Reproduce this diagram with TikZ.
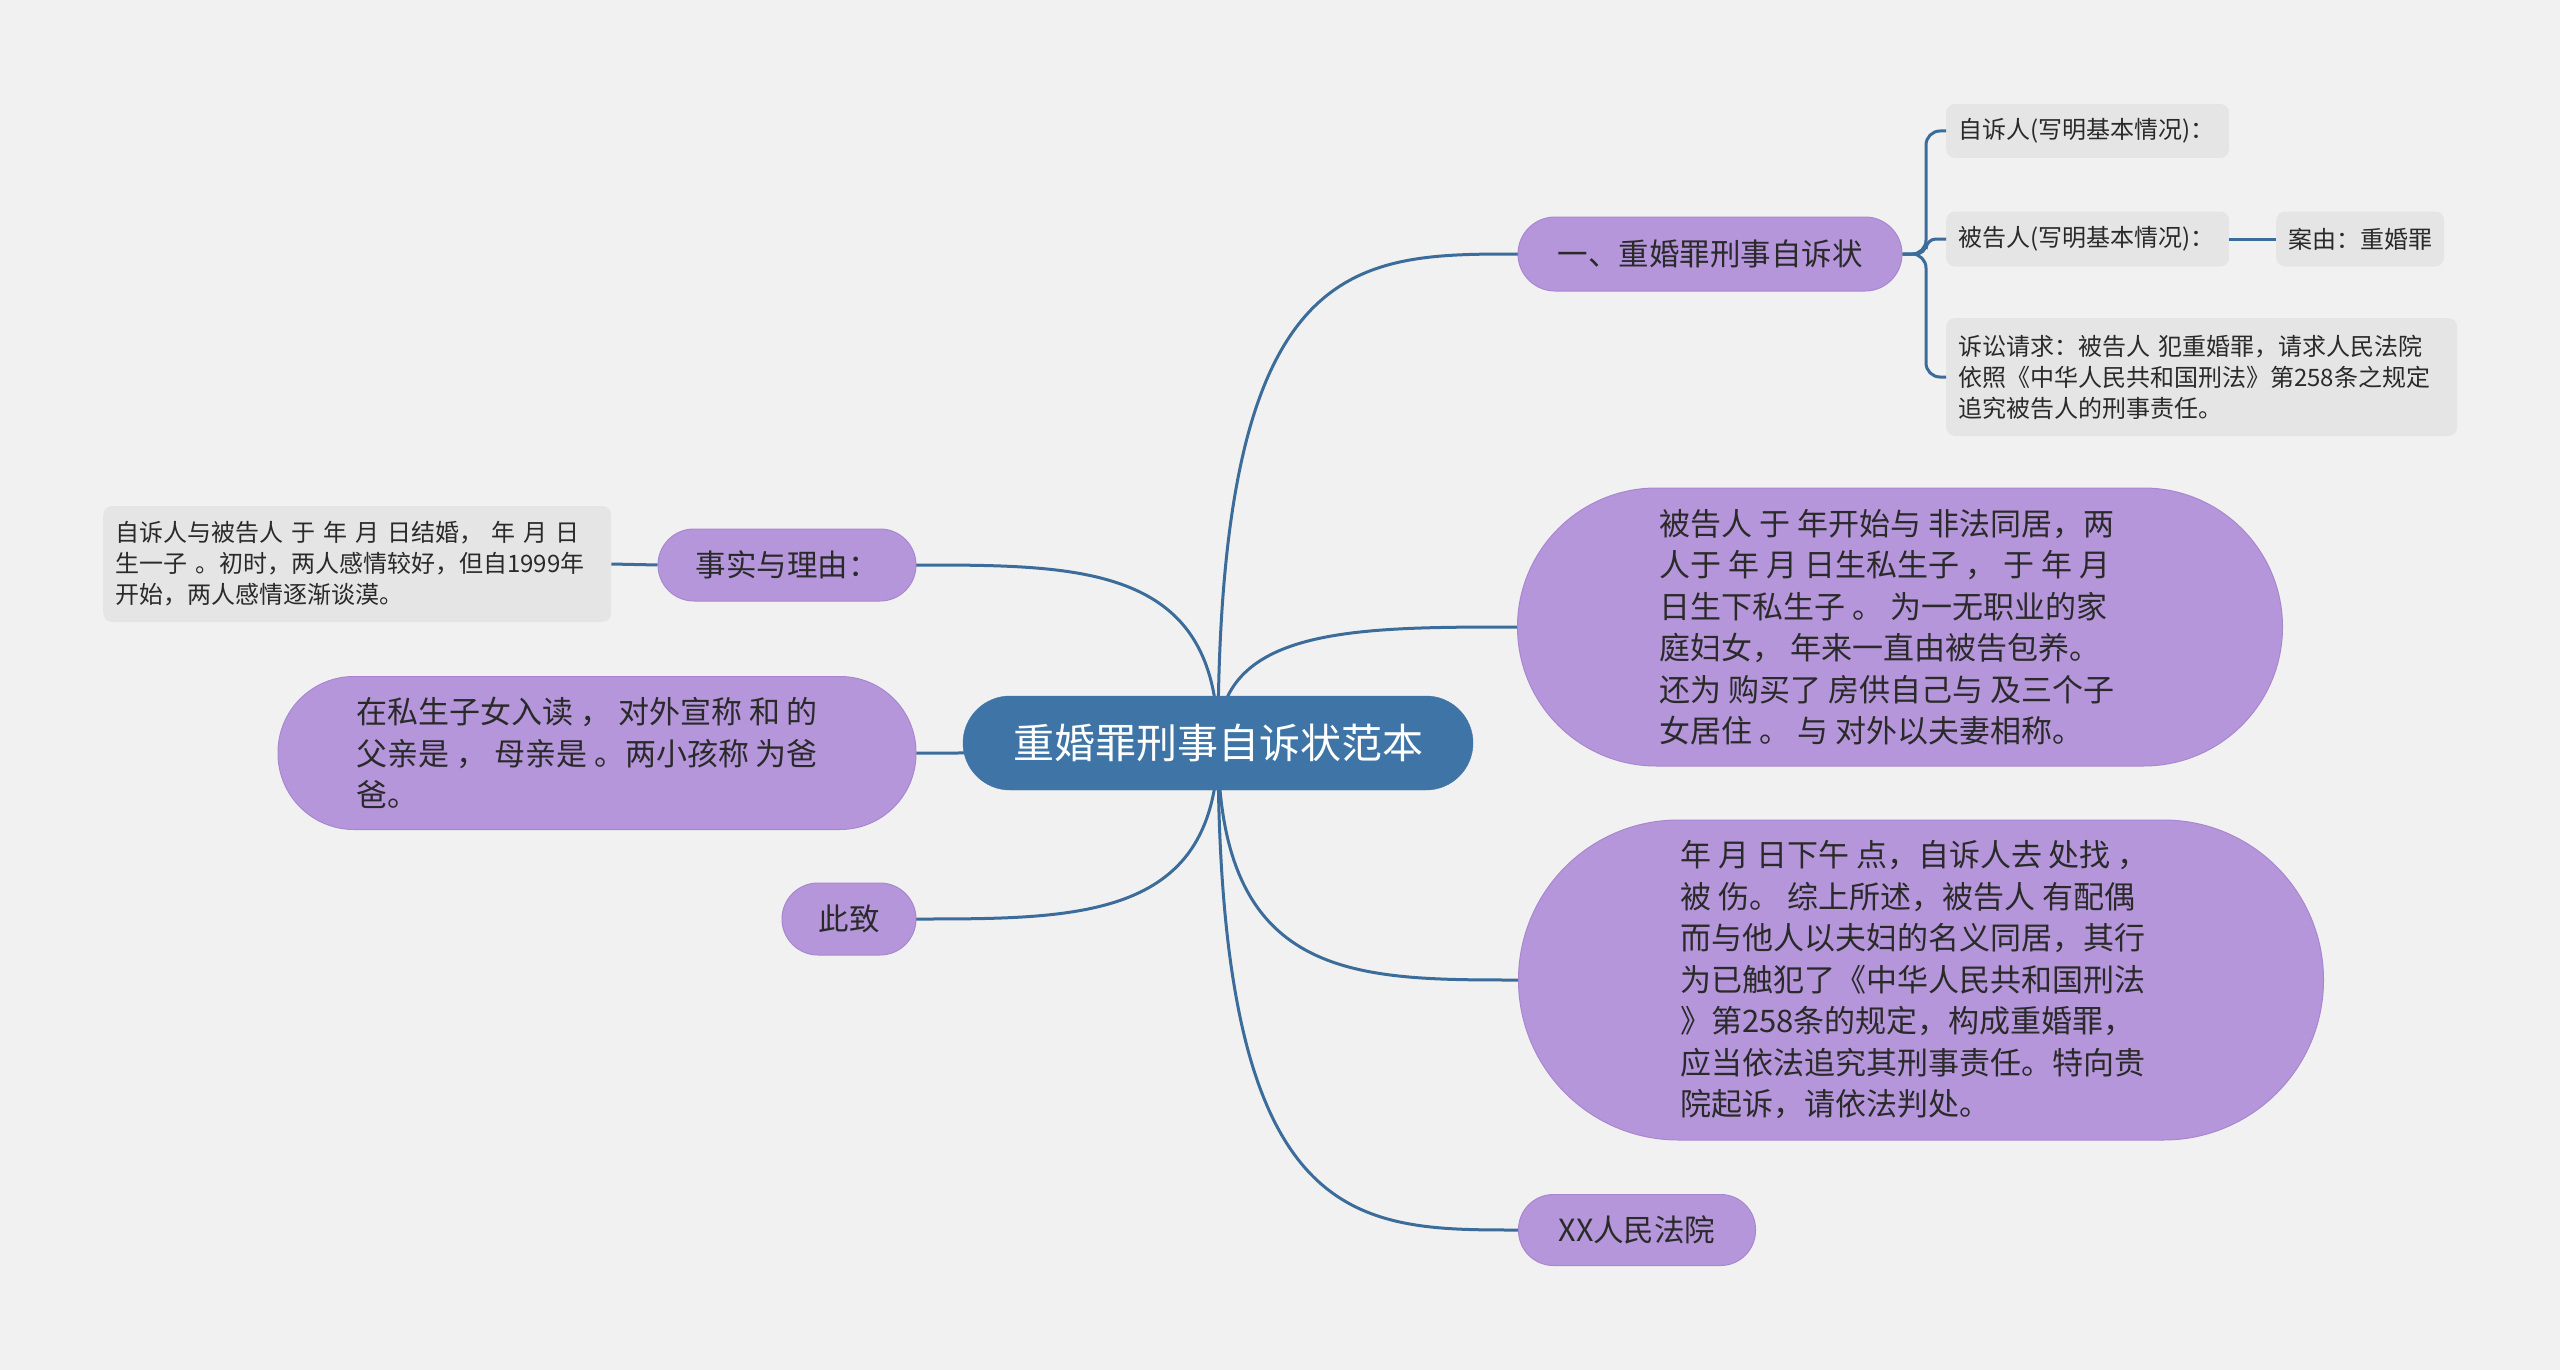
\documentclass[tikz,border=0pt]{standalone}
\usepackage{fontspec}
\setmainfont{Noto Sans CJK SC}
\definecolor{bg}{HTML}{F1F1F1}
\definecolor{rootblue}{HTML}{3F74A6}
\definecolor{lilac}{HTML}{B596DA}
\definecolor{lilacedge}{HTML}{A887CF}
\definecolor{connc}{HTML}{3B6C9A}
\definecolor{greybox}{HTML}{E5E5E5}
\definecolor{txt}{HTML}{2A2A2A}
\begin{document}
\begin{tikzpicture}[x=1pt,y=-1pt,
  rootnode/.style={fill=rootblue, draw=rootblue, text=white, inner sep=0pt,
    font=\fontsize{41}{50}\selectfont},
  topic/.style={fill=lilac, draw=lilacedge, line width=1pt, text=txt, inner sep=0pt,
    font=\fontsize{30.5}{41.5}\selectfont, align=left},
  bigtext/.style={text=txt, inner sep=0pt, anchor=west, align=left,
    font=\fontsize{31}{41.5}\selectfont},
  leaf/.style={fill=greybox, rounded corners=9pt, text=txt, inner xsep=12pt, inner ysep=0pt,
    font=\fontsize{24}{31}\selectfont, align=left, anchor=west},
  conn/.style={draw=connc, line width=3pt}
]
\useasboundingbox[fill=bg] (0,0) rectangle (2560,1370);

% connectors from root (behind nodes)
\coordinate (rc) at (1218,743);
\draw[conn] (rc) .. controls (1218,254) and (1353,254) .. (1518,254);
\draw[conn] (rc) .. controls (1218,627) and (1353,627) .. (1518,627);
\draw[conn] (rc) .. controls (1218,980) and (1353,980) .. (1518,980);
\draw[conn] (rc) .. controls (1218,1230) and (1353,1230) .. (1518,1230);
\draw[conn] (rc) .. controls (1218,565) and (1082,565) .. (916,565);
\draw[conn] (rc) .. controls (1218,753) and (1082,753) .. (916,753);
\draw[conn] (rc) .. controls (1218,919) and (1082,919) .. (916,919);

% root
\node[rootnode, minimum width=510, minimum height=94, rounded corners=47pt] (root) at (1218,743) {重婚罪刑事自诉状范本};

% level-1 topics
\node[topic, minimum width=384, minimum height=74, rounded corners=37pt] (n1) at (1710,254) {一、重婚罪刑事自诉状};
\node[topic, minimum width=765, minimum height=278, rounded corners=139pt] (big1) at (1900,627) {};
\node[bigtext] (big1t) at (1659,627)
 {被告人 于 年开始与 非法同居，两\\人于 年 月 日生私生子 ， 于 年 月\\日生下私生子 。 为一无职业的家\\庭妇女， 年来一直由被告包养。\\还为 购买了 房供自己与 及三个子\\女居住 。 与 对外以夫妻相称。};
\node[topic, minimum width=805, minimum height=320, rounded corners=160pt] (big2) at (1921,980) {};
\node[bigtext] (big2t) at (1680,980)
 {年 月 日下午 点，自诉人去 处找 ，\\被 伤。 综上所述，被告人 有配偶\\而与他人以夫妇的名义同居，其行\\为已触犯了《中华人民共和国刑法\\》第258条的规定，构成重婚罪，\\应当依法追究其刑事责任。特向贵\\院起诉，请依法判处。};
\node[topic, minimum width=237, minimum height=71, rounded corners=35pt] (xx) at (1637,1230) {XX人民法院};
\node[topic, minimum width=258, minimum height=72, rounded corners=36pt] (fact) at (787,565) {事实与理由：};
\node[topic, minimum width=638, minimum height=153, rounded corners=76pt] (kids) at (597,753) {};
\node[bigtext] (kidst) at (356,753)
 {在私生子女入读 ， 对外宣称 和 的\\父亲是 ， 母亲是 。两小孩称 为爸\\爸。};
\node[topic, minimum width=134, minimum height=72, rounded corners=36pt] (zhi) at (849,919) {此致};

% leaves
\node[leaf, text width=259, minimum height=54] (s1) at (1946,131) {自诉人(写明基本情况)：};
\node[leaf, text width=259, minimum height=55] (s2) at (1946,239) {被告人(写明基本情况)：};
\node[leaf, text width=144, minimum height=55] (s3) at (2276,239) {案由：重婚罪};
\node[leaf, text width=487, minimum height=118] (s4) at (1946,377)
 {诉讼请求：被告人 犯重婚罪，请求人民法院\\依照《中华人民共和国刑法》第258条之规定\\追究被告人的刑事责任。};
\node[leaf, text width=484, minimum height=116] (s5) at (103,564)
 {自诉人与被告人 于 年 月 日结婚， 年 月 日\\生一子 。初时，两人感情较好，但自1999年\\开始，两人感情逐渐谈漠。};

% bracket connectors
\draw[conn, rounded corners=14pt] (n1.east) -- (1926,254) |- (s1.west);
\draw[conn, rounded corners=10pt] (n1.east) -- (1926,254) |- (s2.west);
\draw[conn, rounded corners=14pt] (n1.east) -- (1926,254) |- (s4.west);
\draw[conn] (s2.east) -- (s3.west);
\draw[conn] (s5.east) -- (fact.west);
\end{tikzpicture}
\end{document}
